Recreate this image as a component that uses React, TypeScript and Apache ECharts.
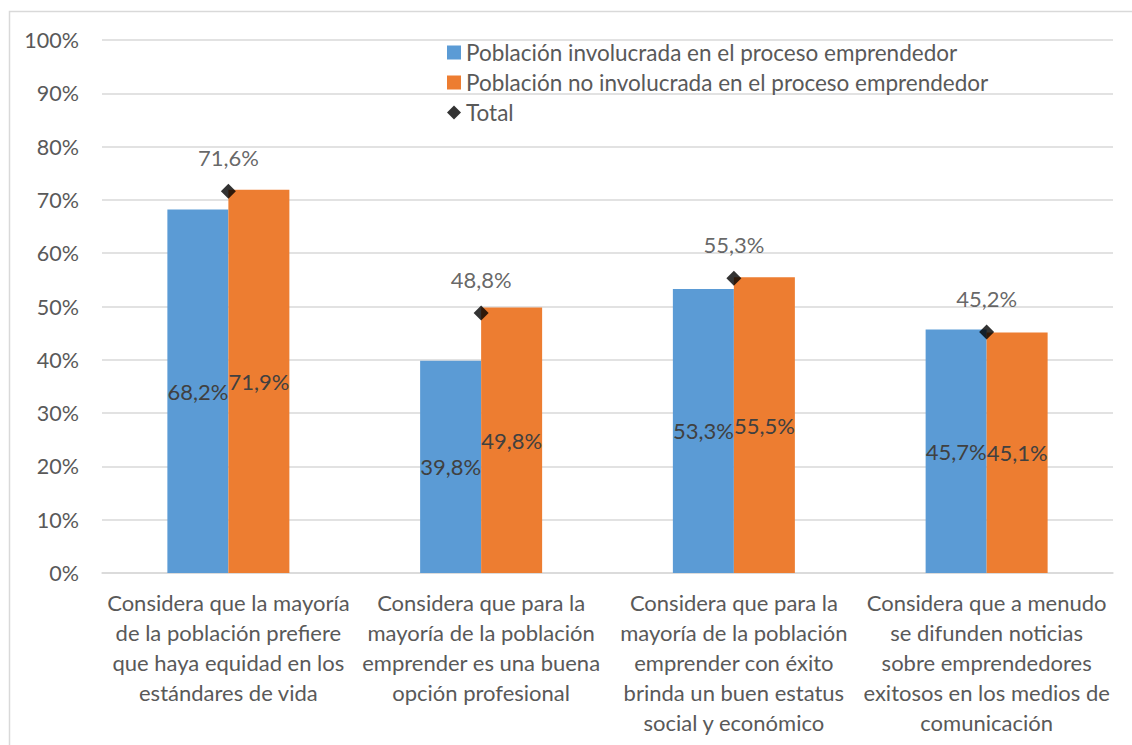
import React, { useEffect, useRef } from "react";
import * as echarts from "echarts";

const categories = [
  "Considera que la mayoría\nde la población prefiere\nque haya equidad en los\nestándares de vida",
  "Considera que para la\nmayoría de la población\nemprender es una buena\nopción profesional",
  "Considera que para la\nmayoría de la población\nemprender con éxito\nbrinda un buen estatus\nsocial y económico",
  "Considera que a menudo\nse difunden noticias\nsobre emprendedores\nexitosos en los medios de\ncomunicación",
];
const involucrada = [68.2, 39.8, 53.3, 45.7];
const noInvolucrada = [71.9, 49.8, 55.5, 45.1];
const total = [71.6, 48.8, 55.3, 45.2];
const seriesNames = [
  "Población involucrada en el proceso emprendedor",
  "Población no involucrada en el proceso emprendedor",
  "Total",
];

const FONT = "Lato, 'Noto Sans', sans-serif";
const fmt = (v: number) => v.toFixed(1).replace(".", ",") + "%";

export default function App() {
  const ref = useRef<HTMLDivElement>(null);
  useEffect(() => {
    document.body.style.margin = "0";
    const chart = echarts.init(ref.current!, undefined, { renderer: "svg" });
    chart.setOption({
      animation: false,
      textStyle: { fontFamily: FONT },
      graphic: [
        {
          type: "rect",
          shape: { x: 9.5, y: 11.5, width: 1140, height: 760 },
          style: { fill: "none", stroke: "#d9d9d9", lineWidth: 1.5 },
          silent: true,
        },
      ],
      grid: { left: 102, right: 19, top: 40, bottom: 172, containLabel: false },
      legend: {
        orient: "vertical",
        left: 442,
        top: 36,
        itemGap: 7,
        itemWidth: 14,
        itemHeight: 14,
        textStyle: { fontSize: 22.5, color: "#595959", fontFamily: FONT, padding: [0, 0, 0, 0] },
        data: [
          { name: seriesNames[0], icon: "rect" },
          { name: seriesNames[1], icon: "rect" },
          { name: seriesNames[2], icon: "diamond" },
        ],
      },
      xAxis: {
        type: "category",
        data: categories,
        axisLine: { lineStyle: { color: "#d9d9d9", width: 1.5 } },
        axisTick: { show: false },
        axisLabel: {
          interval: 0,
          fontSize: 22,
          color: "#595959",
          lineHeight: 30,
          margin: 14,
          fontFamily: FONT,
        },
      },
      yAxis: {
        type: "value",
        min: 0,
        max: 100,
        interval: 10,
        axisLabel: {
          formatter: "{value}%",
          fontSize: 21.5,
          color: "#595959",
          margin: 23,
          fontFamily: FONT,
        },
        splitLine: { lineStyle: { color: "#d9d9d9", width: 1.5 } },
        axisLine: { show: false },
        axisTick: { show: false },
      },
      series: [
        {
          name: seriesNames[0],
          type: "bar",
          data: involucrada,
          barWidth: 61,
          barGap: "0%",
          itemStyle: { color: "#5B9BD5" },
          label: {
            show: true,
            position: "inside",
            formatter: (p: any) => fmt(p.value),
            fontSize: 22,
            color: "#404040",
            fontFamily: FONT,
          },
        },
        {
          name: seriesNames[1],
          type: "bar",
          data: noInvolucrada,
          barWidth: 61,
          barGap: "0%",
          itemStyle: { color: "#ED7D31" },
          label: {
            show: true,
            position: "inside",
            formatter: (p: any) => fmt(p.value),
            fontSize: 22,
            color: "#404040",
            fontFamily: FONT,
          },
        },
        {
          name: seriesNames[2],
          type: "scatter",
          data: total,
          symbol: "diamond",
          symbolSize: 15,
          itemStyle: { color: "#000000" },
          z: 10,
          label: {
            show: true,
            position: "top",
            distance: 15,
            formatter: (p: any) => fmt(p.value),
            fontSize: 22,
            color: "#404040",
            fontFamily: FONT,
          },
        },
      ],
    });
    return () => chart.dispose();
  }, []);
  return <div ref={ref} style={{ width: 1132, height: 745 }} />;
}
